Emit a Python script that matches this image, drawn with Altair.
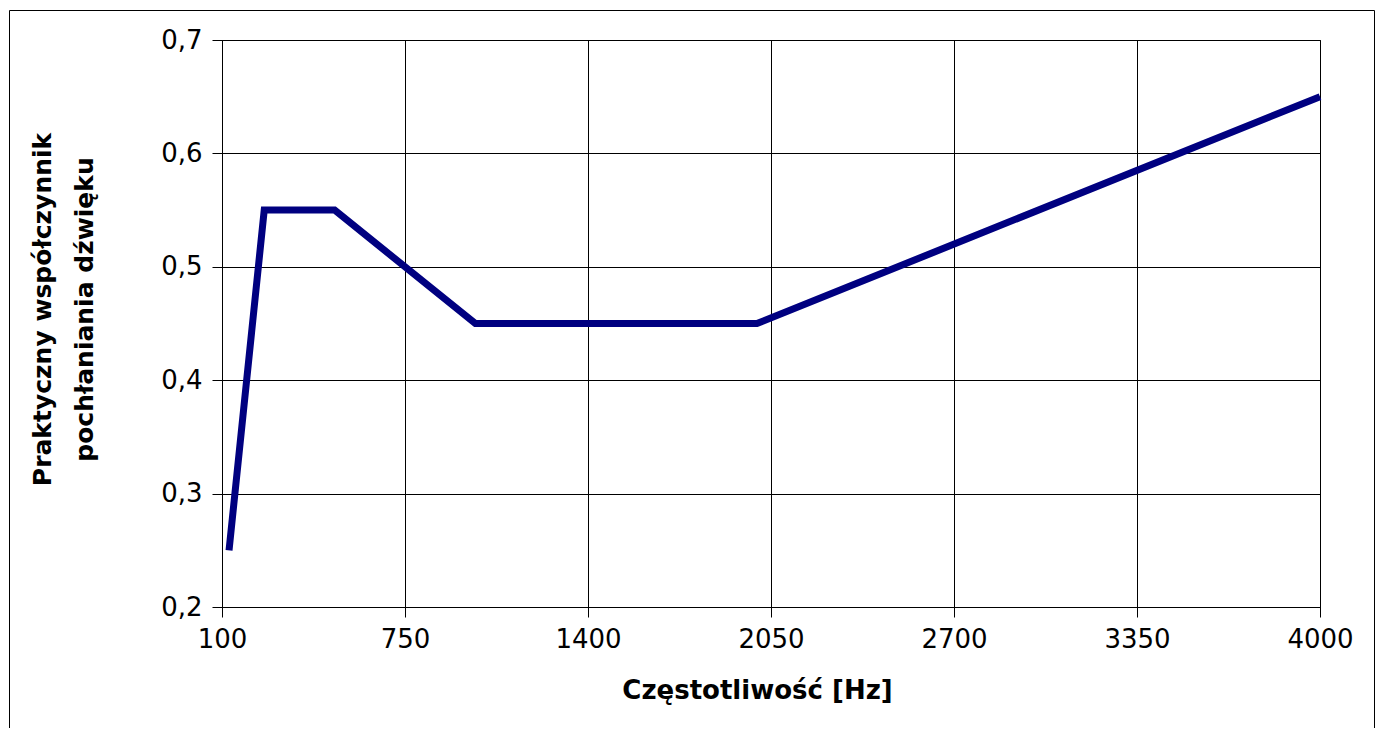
import altair as alt
import pandas as pd

# Data
freq = [125, 250, 500, 1000, 2000, 4000]
alpha = [0.25, 0.55, 0.55, 0.45, 0.45, 0.65]
x_ticks = [100, 750, 1400, 2050, 2700, 3350, 4000]
y_ticks = [0.2, 0.3, 0.4, 0.5, 0.6, 0.7]
x_title = "Częstotliwość [Hz]"
y_title = ["Praktyczny współczynnik", "pochłaniania dźwięku"]

df = pd.DataFrame({"f": freq, "a": alpha})

W, H = 1098, 567

line = alt.Chart(df).mark_line(
    color="#000080", strokeWidth=7, strokeCap="butt", strokeJoin="miter"
).encode(
    x=alt.X(
        "f:Q",
        scale=alt.Scale(domain=[100, 4000], nice=False, zero=False),
        axis=alt.Axis(
            values=x_ticks, title=x_title, format="d",
            labelPadding=9, labelFlush=False, labelOverlap=False,
            titleX=535, titleY=91, titleAlign="center",
            titleBaseline="alphabetic", titleFontSize=26,
        ),
    ),
    y=alt.Y(
        "a:Q",
        scale=alt.Scale(domain=[0.2, 0.7], nice=False, zero=False),
        axis=alt.Axis(
            values=y_ticks,
            labelExpr="replace(format(datum.value, '.1f'), '.', ',')",
            title=y_title, labelPadding=10, labelFlush=False, labelOverlap=False,
            titleAngle=270, titleX=-172, titleY=269, titleAlign="center",
            titleBaseline="alphabetic", titleLineHeight=42, titleFontSize=25,
        ),
    ),
)

border = alt.Chart(pd.DataFrame({"d": [0]})).mark_rect(
    filled=False, stroke="black", strokeWidth=1
).encode(
    x=alt.value(-212.5), x2=alt.value(1152.5), y=alt.value(-29.5), y2=alt.value(720)
)

chart = alt.layer(border, line).properties(
    width=W, height=H,
    autosize=alt.AutoSizeParams(type="none"),
    padding={"left": 214, "top": 32, "right": 55, "bottom": 121},
    background="white",
).configure_view(
    stroke="black", strokeWidth=1
).configure_axis(
    grid=True, gridColor="black", gridOpacity=1, gridWidth=1,
    domainColor="black", domainWidth=1,
    tickColor="black", tickSize=10, tickWidth=1,
    labelColor="black", labelFont="DejaVu Sans", labelFontSize=26,
    titleColor="black", titleFont="DejaVu Sans",
    titleFontWeight="bold",
)

chart.save("out.html", embed_options={"renderer": "svg", "actions": False})
